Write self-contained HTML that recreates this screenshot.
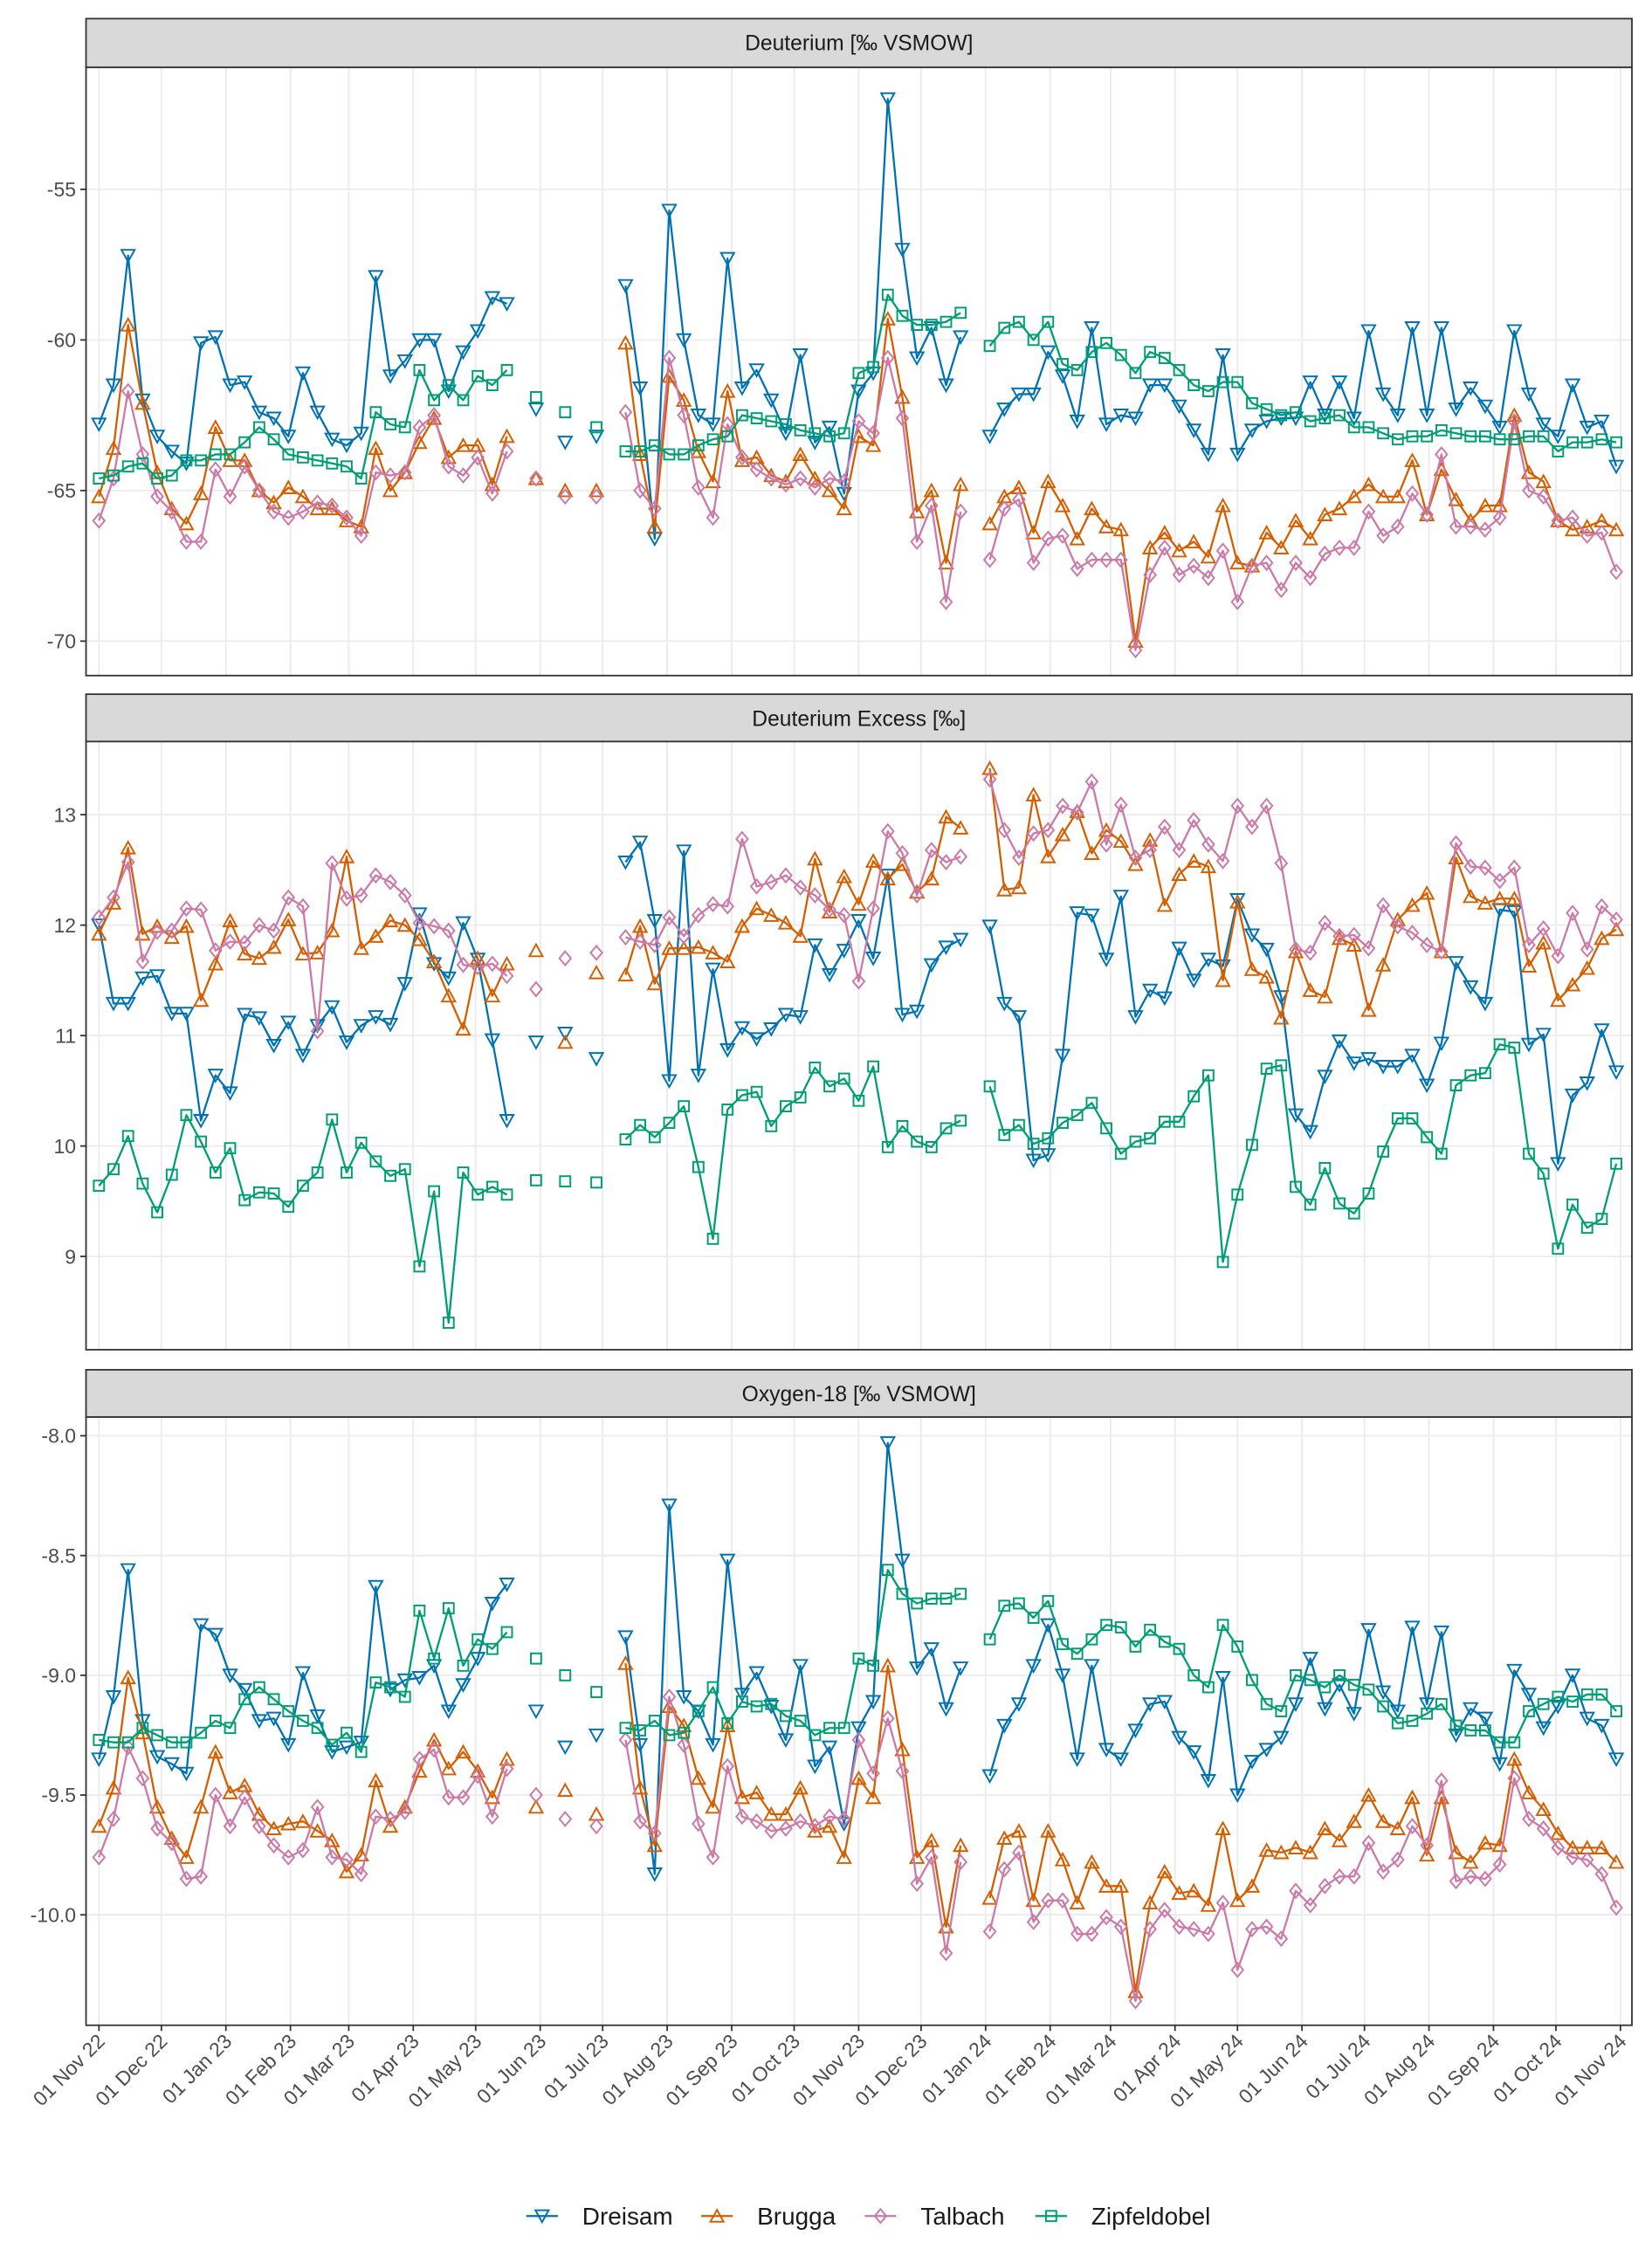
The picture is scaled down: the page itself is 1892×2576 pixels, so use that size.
<!DOCTYPE html>
<html><head><meta charset="utf-8"><title>Isotope time series</title>
<style>
html,body{margin:0;padding:0;background:#fff;}
svg{display:block;font-family:"Liberation Sans",Arial,sans-serif;}
</style></head>
<body>
<svg id="chart" width="1892" height="2576" viewBox="0 0 1152 1568" preserveAspectRatio="none" xmlns="http://www.w3.org/2000/svg"></svg>
<script>
// ---- data ----
const sampleDays = [0,7,14,21,28,35,42,49,56,63,70,77,84,91,98,105,112,119,126,133,140,147,154,161,168,175,182,189,196,
210,224,239,
253,260,267,274,281,288,295,302,309,316,323,330,337,344,351,358,365,372,379,386,393,400,407,414,
428,435,442,449,456,463,470,477,484,491,498,505,512,519,526,533,540,547,554,561,568,575,582,589,596,603,610,617,624,631,638,645,652,659,666,673,680,687,694,701,708,715,722,729];
const seriesNames = ["Dreisam","Brugga","Talbach","Zipfeldobel"];
const monthLabels = ["01 Nov 22","01 Dec 22","01 Jan 23","01 Feb 23","01 Mar 23","01 Apr 23","01 May 23","01 Jun 23","01 Jul 23","01 Aug 23","01 Sep 23","01 Oct 23","01 Nov 23","01 Dec 23","01 Jan 24","01 Feb 24","01 Mar 24","01 Apr 24","01 May 24","01 Jun 24","01 Jul 24","01 Aug 24","01 Sep 24","01 Oct 24","01 Nov 24"];
const monthDays = [0,30,61,92,120,151,181,212,242,273,304,334,365,395,426,457,486,517,547,578,608,639,670,700,731];

const dDTicks = [-55,-60,-65,-70];
const dxsTicks = [13,12,11,10,9];
const o18Ticks = [-8.0,-8.5,-9.0,-9.5,-10.0];

const dD_Dreisam = [-62.8,-61.5,-57.2,-62.0,-63.2,-63.7,-64.1,-60.1,-59.9,-61.5,-61.4,-62.4,-62.6,-63.2,-61.1,-62.4,-63.3,-63.5,-63.1,-57.9,-61.2,-60.7,-60.0,-60.0,-61.7,-60.4,-59.7,-58.6,-58.8,
-62.3,-63.4,-63.2,
-58.2,-61.6,-66.6,-55.7,-60.0,-62.5,-62.8,-57.3,-61.6,-61.0,-62.0,-63.1,-60.5,-63.4,-62.9,-65.1,-61.7,-61.1,-52.0,-57.0,-60.6,-59.6,-61.5,-59.9,
-63.2,-62.3,-61.8,-61.8,-60.4,-61.2,-62.7,-59.6,-62.8,-62.5,-62.6,-61.5,-61.5,-62.2,-63.0,-63.8,-60.5,-63.8,-63.0,-62.7,-62.6,-62.6,-61.4,-62.5,-61.4,-62.6,-59.7,-61.8,-62.5,-59.6,-62.5,-59.6,-62.3,-61.6,-62.2,-62.9,-59.7,-61.8,-62.8,-63.2,-61.5,-62.9,-62.7,-64.2];
const dD_Brugga = [-65.2,-63.6,-59.5,-62.1,-64.4,-65.6,-66.1,-65.1,-62.9,-64.0,-64.0,-65.0,-65.4,-64.9,-65.2,-65.6,-65.6,-66.0,-66.2,-63.6,-65.0,-64.4,-63.4,-62.6,-63.9,-63.5,-63.5,-64.8,-63.2,
-64.6,-65.0,-65.0,
-60.1,-63.8,-66.2,-61.2,-62.0,-63.7,-64.7,-61.7,-64.0,-63.9,-64.5,-64.7,-63.8,-64.6,-65.0,-65.6,-63.2,-63.5,-59.3,-61.9,-65.7,-65.0,-67.4,-64.8,
-66.1,-65.2,-64.9,-66.4,-64.7,-65.5,-66.6,-65.6,-66.2,-66.3,-70.0,-66.9,-66.4,-67.0,-66.7,-67.2,-65.5,-67.4,-67.5,-66.4,-66.9,-66.0,-66.6,-65.8,-65.6,-65.2,-64.8,-65.2,-65.2,-64.0,-65.8,-64.3,-65.3,-66.0,-65.5,-65.5,-62.5,-64.4,-64.7,-66.0,-66.3,-66.2,-66.0,-66.3];
const dD_Talbach = [-66.0,-64.6,-61.7,-63.8,-65.2,-65.7,-66.7,-66.7,-64.3,-65.2,-64.2,-65.0,-65.7,-65.9,-65.7,-65.4,-65.5,-65.9,-66.5,-64.4,-64.5,-64.4,-62.9,-62.5,-64.2,-64.5,-63.9,-65.1,-63.7,
-64.6,-65.2,-65.2,
-62.4,-65.0,-65.6,-60.6,-62.5,-64.9,-65.9,-62.8,-63.9,-64.3,-64.6,-64.8,-64.6,-64.9,-64.6,-64.7,-62.7,-63.1,-60.6,-62.6,-66.7,-65.5,-68.7,-65.7,
-67.3,-65.6,-65.3,-67.4,-66.6,-66.5,-67.6,-67.3,-67.3,-67.3,-70.3,-67.8,-66.9,-67.8,-67.5,-67.9,-67.0,-68.7,-67.5,-67.4,-68.3,-67.4,-67.9,-67.1,-66.9,-66.9,-65.7,-66.5,-66.2,-65.1,-65.8,-63.8,-66.2,-66.2,-66.3,-65.9,-62.7,-65.0,-65.2,-66.0,-65.9,-66.5,-66.4,-67.7];
const dD_Zipfeldobel = [-64.6,-64.5,-64.2,-64.1,-64.6,-64.5,-64.0,-64.0,-63.8,-63.8,-63.4,-62.9,-63.3,-63.8,-63.9,-64.0,-64.1,-64.2,-64.6,-62.4,-62.8,-62.9,-61.0,-62.0,-61.5,-62.0,-61.2,-61.5,-61.0,
-61.9,-62.4,-62.9,
-63.7,-63.7,-63.5,-63.8,-63.8,-63.5,-63.3,-63.2,-62.5,-62.6,-62.7,-62.8,-63.0,-63.1,-63.2,-63.1,-61.1,-60.9,-58.5,-59.2,-59.5,-59.5,-59.4,-59.1,
-60.2,-59.6,-59.4,-60.0,-59.4,-60.8,-61.0,-60.4,-60.1,-60.5,-61.1,-60.4,-60.6,-61.0,-61.5,-61.7,-61.4,-61.4,-62.1,-62.3,-62.5,-62.4,-62.7,-62.6,-62.5,-62.9,-62.9,-63.1,-63.3,-63.2,-63.2,-63.0,-63.1,-63.2,-63.2,-63.3,-63.3,-63.2,-63.2,-63.7,-63.4,-63.4,-63.3,-63.4];

const dxs_Dreisam = [12.0,11.29,11.29,11.52,11.54,11.2,11.2,10.23,10.64,10.48,11.19,11.16,10.91,11.12,10.82,11.09,11.26,10.94,11.09,11.17,11.1,11.47,12.1,11.65,11.52,12.02,11.69,10.96,10.23,
10.94,11.02,10.79,
12.57,12.75,12.04,10.59,12.67,10.64,11.6,10.87,11.07,10.97,11.06,11.19,11.17,11.82,11.55,11.77,12.04,11.7,12.45,11.19,11.22,11.64,11.8,11.87,
11.99,11.29,11.17,9.87,9.92,10.82,12.11,12.09,11.69,12.26,11.17,11.41,11.34,11.79,11.5,11.69,11.63,12.23,11.91,11.78,11.35,10.28,10.13,10.63,10.95,10.75,10.79,10.72,10.72,10.82,10.55,10.93,11.66,11.44,11.29,12.14,12.12,10.92,11.01,9.84,10.46,10.57,11.05,10.67];
const dxs_Brugga = [11.92,12.2,12.7,11.92,11.99,11.89,11.99,11.32,11.65,12.04,11.74,11.7,11.8,12.05,11.74,11.75,11.95,12.62,11.79,11.9,12.04,12.0,11.87,11.67,11.36,11.06,11.7,11.36,11.65,
11.77,10.94,11.57,
11.55,11.99,11.47,11.79,11.79,11.8,11.75,11.67,11.99,12.15,12.09,12.02,11.9,12.6,12.12,12.44,12.19,12.58,12.42,12.55,12.3,12.42,12.98,12.88,
13.42,12.32,12.34,13.18,12.62,12.82,13.03,12.65,12.86,12.76,12.55,12.77,12.18,12.46,12.58,12.53,11.5,12.21,11.6,11.53,11.16,11.76,11.41,11.35,11.88,11.82,11.23,11.64,12.05,12.18,12.29,11.76,12.61,12.26,12.2,12.24,12.24,11.63,11.84,11.32,11.46,11.61,11.88,11.96];
const dxs_Talbach = [12.07,12.25,12.57,11.67,11.94,11.95,12.15,12.14,11.77,11.85,11.84,12.0,11.95,12.25,12.17,11.04,12.56,12.24,12.27,12.45,12.39,12.27,12.02,11.99,11.95,11.64,11.62,11.65,11.54,
11.42,11.7,11.75,
11.89,11.85,11.82,12.07,11.9,12.09,12.19,12.17,12.78,12.35,12.39,12.45,12.34,12.27,12.14,12.09,11.49,12.15,12.85,12.65,12.27,12.68,12.57,12.62,
13.32,12.86,12.61,12.83,12.86,13.08,13.02,13.3,12.73,13.09,12.61,12.68,12.89,12.68,12.95,12.73,12.58,13.08,12.89,13.08,12.56,11.78,11.75,12.02,11.9,11.91,11.79,12.18,11.99,11.93,11.82,11.76,12.74,12.53,12.52,12.4,12.52,11.82,11.97,11.72,12.11,11.78,12.17,12.05];
const dxs_Zipfeldobel = [9.64,9.79,10.09,9.66,9.4,9.74,10.28,10.04,9.76,9.98,9.51,9.58,9.57,9.45,9.64,9.76,10.24,9.76,10.03,9.86,9.73,9.79,8.91,9.59,8.4,9.76,9.56,9.63,9.56,
9.69,9.68,9.67,
10.06,10.19,10.08,10.21,10.36,9.81,9.16,10.33,10.46,10.49,10.18,10.36,10.44,10.71,10.54,10.61,10.41,10.72,9.99,10.18,10.04,9.99,10.16,10.23,
10.54,10.1,10.19,10.02,10.07,10.21,10.28,10.39,10.16,9.93,10.04,10.07,10.22,10.22,10.45,10.64,8.95,9.56,10.01,10.7,10.73,9.63,9.47,9.8,9.48,9.39,9.57,9.95,10.25,10.25,10.08,9.93,10.55,10.64,10.66,10.92,10.89,9.93,9.75,9.07,9.47,9.26,9.34,9.84];

const o18_Dreisam = [-9.35,-9.09,-8.56,-9.19,-9.34,-9.37,-9.41,-8.79,-8.83,-9.0,-9.06,-9.19,-9.18,-9.29,-8.99,-9.17,-9.32,-9.3,-9.28,-8.63,-9.06,-9.02,-9.01,-8.96,-9.15,-9.04,-8.93,-8.7,-8.62,
-9.15,-9.3,-9.25,
-8.84,-9.29,-9.83,-8.29,-9.09,-9.15,-9.29,-8.52,-9.08,-8.99,-9.13,-9.27,-8.96,-9.38,-9.3,-9.62,-9.22,-9.11,-8.03,-8.52,-8.97,-8.89,-9.14,-8.97,
-9.42,-9.21,-9.12,-8.96,-8.79,-9.0,-9.35,-8.96,-9.31,-9.35,-9.23,-9.12,-9.11,-9.26,-9.32,-9.44,-9.01,-9.5,-9.36,-9.31,-9.26,-9.12,-8.93,-9.14,-9.04,-9.16,-8.81,-9.07,-9.15,-8.8,-9.12,-8.82,-9.25,-9.14,-9.18,-9.37,-8.98,-9.08,-9.22,-9.13,-9.0,-9.18,-9.21,-9.35];
const o18_Brugga = [-9.63,-9.47,-9.01,-9.24,-9.55,-9.68,-9.76,-9.55,-9.32,-9.49,-9.46,-9.58,-9.64,-9.62,-9.61,-9.65,-9.69,-9.82,-9.75,-9.44,-9.63,-9.55,-9.4,-9.27,-9.39,-9.32,-9.4,-9.51,-9.35,
-9.55,-9.48,-9.58,
-8.95,-9.47,-9.71,-9.13,-9.21,-9.43,-9.55,-9.21,-9.51,-9.49,-9.58,-9.58,-9.47,-9.65,-9.63,-9.76,-9.43,-9.51,-8.96,-9.31,-9.76,-9.69,-10.05,-9.71,
-9.93,-9.68,-9.65,-9.94,-9.65,-9.77,-9.95,-9.78,-9.88,-9.88,-10.32,-9.95,-9.82,-9.91,-9.9,-9.96,-9.64,-9.94,-9.88,-9.73,-9.74,-9.72,-9.74,-9.64,-9.69,-9.61,-9.5,-9.61,-9.64,-9.51,-9.75,-9.51,-9.74,-9.78,-9.7,-9.71,-9.35,-9.49,-9.56,-9.66,-9.72,-9.72,-9.72,-9.78];
const o18_Talbach = [-9.76,-9.6,-9.3,-9.43,-9.64,-9.7,-9.85,-9.84,-9.5,-9.63,-9.51,-9.63,-9.71,-9.76,-9.73,-9.55,-9.76,-9.77,-9.83,-9.59,-9.6,-9.57,-9.35,-9.31,-9.51,-9.51,-9.42,-9.59,-9.39,
-9.5,-9.6,-9.63,
-9.27,-9.61,-9.66,-9.09,-9.29,-9.62,-9.76,-9.38,-9.59,-9.61,-9.65,-9.64,-9.61,-9.63,-9.59,-9.6,-9.27,-9.41,-9.18,-9.4,-9.87,-9.76,-10.16,-9.78,
-10.07,-9.81,-9.74,-10.03,-9.94,-9.94,-10.08,-10.08,-10.01,-10.05,-10.36,-10.06,-9.98,-10.05,-10.06,-10.08,-9.95,-10.23,-10.06,-10.05,-10.1,-9.9,-9.96,-9.88,-9.84,-9.84,-9.7,-9.82,-9.77,-9.63,-9.71,-9.44,-9.86,-9.84,-9.85,-9.79,-9.43,-9.6,-9.64,-9.72,-9.76,-9.77,-9.83,-9.97];
const o18_Zipfeldobel = [-9.27,-9.28,-9.28,-9.22,-9.25,-9.28,-9.28,-9.24,-9.19,-9.22,-9.1,-9.05,-9.1,-9.15,-9.19,-9.22,-9.29,-9.24,-9.32,-9.03,-9.05,-9.09,-8.73,-8.93,-8.72,-8.96,-8.85,-8.89,-8.82,
-8.93,-9.0,-9.07,
-9.22,-9.23,-9.19,-9.25,-9.24,-9.15,-9.05,-9.2,-9.11,-9.13,-9.12,-9.17,-9.19,-9.25,-9.22,-9.22,-8.93,-8.96,-8.56,-8.66,-8.7,-8.68,-8.68,-8.66,
-8.85,-8.71,-8.7,-8.76,-8.69,-8.87,-8.91,-8.85,-8.79,-8.8,-8.88,-8.81,-8.86,-8.89,-9.0,-9.05,-8.79,-8.88,-9.02,-9.12,-9.15,-9.0,-9.02,-9.05,-9.0,-9.04,-9.06,-9.13,-9.2,-9.19,-9.16,-9.12,-9.21,-9.23,-9.23,-9.28,-9.28,-9.15,-9.12,-9.09,-9.11,-9.08,-9.08,-9.15];

// ---- layout ----
const NS = "http://www.w3.org/2000/svg";
const svg = document.getElementById("chart");
const colors = ["#0072B2","#D55E00","#CC79A7","#009E73"];
const shapes = ["down","up","diamond","square"];
const PL = 60, PR = 1138;
const xScale = d => 69 + d * (1061 / 731);

function mk(tag, attrs, parent) {
  const e = document.createElementNS(NS, tag);
  for (const k in attrs) e.setAttribute(k, attrs[k]);
  (parent || svg).appendChild(e);
  return e;
}
function marker(shape, x, y, color, parent) {
  let e;
  if (shape === "down") e = mk("polygon", {points: `${x-4.6},${y-4} ${x+4.6},${y-4} ${x},${y+4.3}`}, parent);
  else if (shape === "up") e = mk("polygon", {points: `${x-4.6},${y+4} ${x+4.6},${y+4} ${x},${y-4.3}`}, parent);
  else if (shape === "diamond") e = mk("polygon", {points: `${x},${y-4.8} ${x+4},${y} ${x},${y+4.8} ${x-4},${y}`}, parent);
  else e = mk("rect", {x: x-3.6, y: y-3.6, width: 7.2, height: 7.2}, parent);
  e.setAttribute("fill", "none");
  e.setAttribute("stroke", color);
  e.setAttribute("stroke-width", "1.2");
  return e;
}

const panels = [
  {name: "deuterium", title: "Deuterium [‰ VSMOW]", sy: 13, top: 47, bot: 471, ticks: dDTicks, fmt: v => String(v),
   yScale: v => 237 - (v + 60) * 21, series: [dD_Dreisam, dD_Brugga, dD_Talbach, dD_Zipfeldobel]},
  {name: "deuterium-excess", title: "Deuterium Excess [‰]", sy: 484, top: 517, bot: 941, ticks: dxsTicks, fmt: v => String(v),
   yScale: v => 645 - (v - 12) * 77, series: [dxs_Dreisam, dxs_Brugga, dxs_Talbach, dxs_Zipfeldobel]},
  {name: "oxygen-18", title: "Oxygen-18 [‰ VSMOW]", sy: 955, top: 988, bot: 1412, ticks: o18Ticks, fmt: v => v.toFixed(1),
   yScale: v => 1168 - (v + 9) * 167, series: [o18_Dreisam, o18_Brugga, o18_Talbach, o18_Zipfeldobel]}
];

panels.forEach(p => {
  const g = mk("g", {});
  
  
  const strip = mk("rect", {x: PL, y: p.sy, width: PR-PL, height: p.top-p.sy, fill: "#d9d9d9", stroke: "#333", "stroke-width": 1.1}, g);
  
  
  const st = mk("text", {x: (PL+PR)/2, y: p.sy + 22, "text-anchor": "middle", "font-size": 15, fill: "#1a1a1a"}, g);
  st.textContent = p.title;
  
  
  mk("rect", {x: PL, y: p.top, width: PR-PL, height: p.bot-p.top, fill: "#fff"}, g);
  monthDays.forEach(d => {
    const gl = mk("line", {x1: xScale(d), x2: xScale(d), y1: p.top, y2: p.bot, stroke: "#ebebeb", "stroke-width": 1.1}, g);
    
    
  });
  p.ticks.forEach(v => {
    const y = p.yScale(v);
    const gl = mk("line", {x1: PL, x2: PR, y1: y, y2: y, stroke: "#ebebeb", "stroke-width": 1.1}, g);
    
    
    mk("line", {x1: PL-4, x2: PL, y1: y, y2: y, stroke: "#333", "stroke-width": 1.1}, g);
    const t = mk("text", {x: PL-7, y: y+5, "text-anchor": "end", "font-size": 14, fill: "#4d4d4d"}, g);
    t.textContent = p.fmt(v);
    
    
  });
  p.series.forEach((vals, si) => {
    const sg = mk("g", {}, g);
    
    
    let seg = [];
    const flush = () => {
      if (seg.length > 1) {
        const pl = mk("polyline", {points: seg.map(q => q.join(",")).join(" "), fill: "none", stroke: colors[si], "stroke-width": 1.4, "stroke-linejoin": "round"}, sg);
        
        
      }
      seg = [];
    };
    for (let i = 0; i < vals.length; i++) {
      if (vals[i] === null) { flush(); continue; }
      if (i > 0 && sampleDays[i] - sampleDays[i-1] > 10) flush();
      seg.push([xScale(sampleDays[i]), p.yScale(vals[i])]);
    }
    flush();
    vals.forEach((v, i) => {
      if (v === null) return;
      const m = marker(shapes[si], xScale(sampleDays[i]), p.yScale(v), colors[si], sg);
      
      
    });
  });
  const bd = mk("rect", {x: PL, y: p.top, width: PR-PL, height: p.bot-p.top, fill: "none", stroke: "#333", "stroke-width": 1.1}, g);
  
  
});

const xg = mk("g", {});


monthDays.forEach((d, i) => {
  const x = xScale(d);
  mk("line", {x1: x, x2: x, y1: 1412, y2: 1416, stroke: "#333", "stroke-width": 1.1}, xg);
  const t = mk("text", {x: x + 5, y: 1424, "text-anchor": "end", "font-size": 14, fill: "#4d4d4d", transform: `rotate(-45 ${x+5} 1424)`}, xg);
  t.textContent = monthLabels[i];
  
  
});

const lg = mk("g", {});


const legX = [378, 500, 614, 733];
seriesNames.forEach((n, si) => {
  const eg = mk("g", {}, lg);
  
  
  const cx = legX[si];
  mk("line", {x1: cx-11, x2: cx+11, y1: 1545, y2: 1545, stroke: colors[si], "stroke-width": 1.4}, eg);
  marker(shapes[si], cx, 1545, colors[si], eg);
  const t = mk("text", {x: cx + 28, y: 1551, "font-size": 17, fill: "#1a1a1a"}, eg);
  t.textContent = n;
});
</script>
</body></html>
